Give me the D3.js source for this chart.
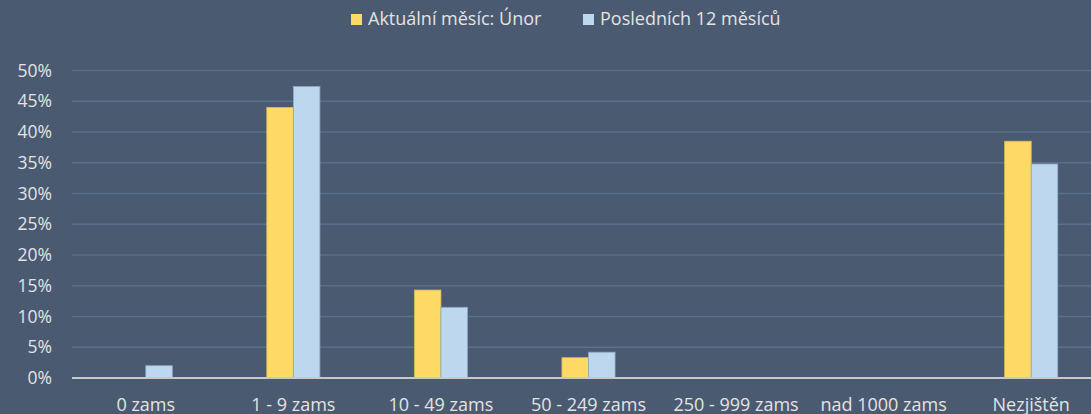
<!DOCTYPE html>
<html>
<head>
<meta charset="utf-8">
<script src="https://cdn.jsdelivr.net/npm/d3@7"></script>
<style>
  html, body { margin: 0; padding: 0; background: #4a5a71; overflow: hidden; }
  svg { display: block; }
  text { font-family: "Open Sans", "Noto Sans", sans-serif; fill: #e3e3e3; }
</style>
</head>
<body>
<div id="chart"></div>
<script>
// Data
const categories = ["0 zams", "1 - 9 zams", "10 - 49 zams", "50 - 249 zams", "250 - 999 zams", "nad 1000 zams", "Nezjištěn"];
const seriesNames = ["Aktuální měsíc: Únor", "Posledních 12 měsíců"];
const currentMonth = [0, 44.0, 14.3, 3.3, 0, 0, 38.5];
const last12Months = [2.0, 47.4, 11.5, 4.2, 0, 0, 34.8];
const yTicks = [0, 5, 10, 15, 20, 25, 30, 35, 40, 45, 50];

const colors = ["#ffd966", "#bdd7ee"];
const strokes = ["#d9b95a", "#8ea6c2"];

const W = 1091, H = 414;
const margin = { top: 70.5, right: -14, bottom: 36, left: 72 };
const width = W - margin.left - margin.right;
const height = H - margin.top - margin.bottom;

const svg = d3.select("#chart")
  .append("svg")
  .attr("width", W)
  .attr("height", H);

const g = svg.append("g")
  .attr("transform", `translate(${margin.left},${margin.top})`);

// Scales
const x = d3.scaleBand()
  .domain(categories)
  .range([0, width])
  .paddingInner(0.64)
  .paddingOuter(0.32);

const x1 = d3.scaleBand()
  .domain(seriesNames)
  .range([0, x.bandwidth()]);

const y = d3.scaleLinear()
  .domain([0, 50])
  .range([height, 0]);

// Gridlines
g.append("g")
  .selectAll("line")
  .data(yTicks.filter(d => d > 0))
  .enter()
  .append("line")
    .attr("x1", 0)
    .attr("x2", width)
    .attr("y1", d => y(d))
    .attr("y2", d => y(d))
    .attr("stroke", "#5a6f8c")
    .attr("stroke-width", 1.3);

// Y axis labels
const yAxis = g.append("g")
  .call(d3.axisLeft(y).tickValues(yTicks).tickFormat(d => d + "%").tickSize(0).tickPadding(20));
yAxis.select(".domain").remove();
yAxis.selectAll("text")
  .attr("fill", "#e3e3e3")
  .style("font-family", "'Open Sans', 'Noto Sans', sans-serif")
  .style("font-size", "17.5px");

// Bars
const rows = categories.map((c, i) => ({ cat: c, vals: [currentMonth[i], last12Months[i]] }));

g.append("g")
  .selectAll("g")
  .data(rows)
  .enter()
  .append("g")
    .attr("transform", d => `translate(${x(d.cat)},0)`)
  .selectAll("rect")
  .data(d => d.vals.map((v, k) => ({ key: seriesNames[k], k: k, v: v })))
  .enter()
  .filter(d => d.v > 0)
  .append("rect")
    .attr("x", d => x1(d.key))
    .attr("y", d => y(d.v))
    .attr("width", x1.bandwidth())
    .attr("height", d => height - y(d.v))
    .attr("fill", d => colors[d.k])
    .attr("stroke", d => strokes[d.k])
    .attr("stroke-width", 0.8);

// X axis line
g.append("line")
  .attr("x1", 0)
  .attr("x2", width)
  .attr("y1", height)
  .attr("y2", height)
  .attr("stroke", "#c8c8c8")
  .attr("stroke-width", 2);

// X labels
g.append("g")
  .selectAll("text")
  .data(categories)
  .enter()
  .append("text")
    .attr("x", d => x(d) + x.bandwidth() / 2)
    .attr("y", height + 33)
    .attr("text-anchor", "middle")
    .style("font-size", "18px")
    .text(d => d);

// Legend
const legendX = [351, 583];
const legend = svg.append("g")
  .selectAll("g")
  .data(seriesNames)
  .enter()
  .append("g")
    .attr("transform", (d, i) => `translate(${legendX[i]},14)`);

legend.append("rect")
  .attr("width", 11)
  .attr("height", 11)
  .attr("fill", (d, i) => colors[i]);

legend.append("text")
  .attr("x", 17)
  .attr("y", 11)
  .style("font-size", "18px")
  .text(d => d);
</script>
</body>
</html>
